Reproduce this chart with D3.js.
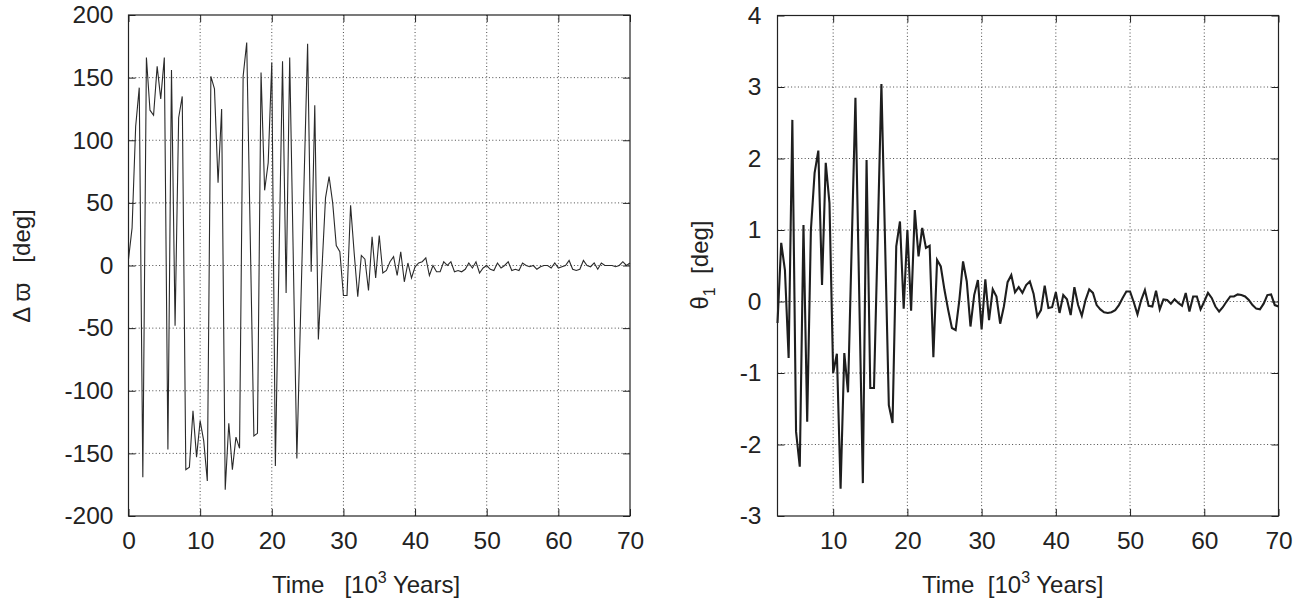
<!DOCTYPE html>
<html>
<head>
<meta charset="utf-8">
<script src="https://cdn.jsdelivr.net/npm/d3@7"></script>
<style>
  html, body { margin: 0; padding: 0; background: #fff; }
  svg { display: block; }
  text { font-family: "Liberation Sans", Arial, Helvetica, sans-serif; fill: #222; }
</style>
</head>
<body>
<svg id="chart" width="1309" height="605"></svg>
<script>
// ---------------- DATA ----------------
// Left panel: Δϖ [deg] sampled every 0.5 kyr from 0 to 70
const leftStart = 0, leftStep = 0.5;
const leftValues = [
  5, 30, 111, 142, -169, 166, 124, 120, 159, 133,
  166, -147, 156, -48, 118, 135, -163, -161, -116, -153,
  -124, -140, -172, 151, 141, 66, 125, -179, -126, -163,
  -137, -146, 151, 178, 21, -136, -134, 154, 60, 82,
  162, -160, 2, 163, -22, 166, 6, -154, -44, 66,
  177, -5, 128, -59, -3, 54, 71, 50, 16, 11,
  -24, -24, 48, 10, -25, 8, 5, -20, 23, -10,
  24, -6, -4, 3, 7, -8, 11, -13, 2, -10,
  -1, 2, 3, 6, -8, 0, -5, -5, 3, 0,
  3, -5, -4, -5, -3, 2, -2, 3, -6, -2,
  0, -3, -4, 2, -2, 0, 3, -4, -3, -4,
  2, 0, -1, 0, -3, -1, 0, 0, -2, 2,
  -2, -1, 0, 4, -3, -4, -3, 4, 0, -1,
  2, -3, 2, 0, 0, 0, -1, 0, 3, 0,
  2
];
// Right panel: θ1 [deg] sampled every 0.5 kyr from 2.5 to 70
const rightStart = 2.5, rightStep = 0.5;
const rightValues = [
  -0.3, 0.82, 0.44, -0.79, 2.54, -1.82, -2.31, 1.07, -1.68, 1.0,
  1.8, 2.11, 0.23, 1.94, 1.38, -1.0, -0.73, -2.62, -0.72, -1.27,
  0.79, 2.85, 0.15, -2.54, 1.98, -1.21, -1.21, 0.9, 3.04, 0.8,
  -1.45, -1.7, 0.77, 1.12, -0.1, 1.0, -0.13, 1.28, 0.63, 1.03,
  0.75, 0.78, -0.78, 0.58, 0.49, 0.16, -0.12, -0.37, -0.4, 0.02,
  0.56, 0.28, -0.35, 0.09, 0.3, -0.39, 0.31, -0.26, 0.17, 0.07,
  -0.31, -0.07, 0.27, 0.37, 0.13, 0.2, 0.12, 0.23, 0.28, 0.11,
  -0.21, -0.12, 0.22, -0.09, -0.08, 0.13, -0.16, 0.09, 0.03, -0.19,
  0.2, -0.05, -0.2, 0.02, 0.17, 0.12, -0.05, -0.11, -0.15, -0.16,
  -0.15, -0.12, -0.05, 0.05, 0.14, 0.14, -0.01, -0.18, 0.02, 0.16,
  -0.06, -0.07, 0.15, -0.11, 0.03, 0.02, -0.03, 0.03, -0.02, -0.06,
  0.12, -0.14, 0.07, 0.07, -0.11, 0, 0.12, 0.05, -0.07, -0.14,
  -0.08, 0, 0.07, 0.07, 0.1, 0.09, 0.07, 0.02, -0.05, -0.1,
  -0.11, -0.03, 0.09, 0.1, -0.05, -0.07
];
// Tick labels
const leftXTicks = [0, 10, 20, 30, 40, 50, 60, 70];
const leftYTicks = [-200, -150, -100, -50, 0, 50, 100, 150, 200];
const rightXTicks = [10, 20, 30, 40, 50, 60, 70];
const rightYTicks = [-3, -2, -1, 0, 1, 2, 3, 4];

// ---------------- DRAWING ----------------
const svg = d3.select("#chart");
svg.append("rect").attr("width", 1309).attr("height", 605).attr("fill", "#fff");

const fmt = d => String(d); // plain hyphen-minus, as in the reference

function panel(cfg) {
  const x = d3.scaleLinear().domain(cfg.xDomain).range([cfg.left, cfg.right]);
  const y = d3.scaleLinear().domain(cfg.yDomain).range([cfg.bottom, cfg.top]);
  const g = svg.append("g");

  // grid (dotted)
  const grid = g.append("g").attr("stroke", "#4a4a4a").attr("stroke-width", 1)
    .attr("stroke-dasharray", "1,2.4");
  cfg.xTicks.forEach(t => {
    const px = x(t);
    if (px > cfg.left + 1 && px < cfg.right - 1)
      grid.append("line").attr("x1", px).attr("x2", px).attr("y1", cfg.top).attr("y2", cfg.bottom);
  });
  cfg.yTicks.forEach(t => {
    const py = y(t);
    if (py > cfg.top + 1 && py < cfg.bottom - 1)
      grid.append("line").attr("x1", cfg.left).attr("x2", cfg.right).attr("y1", py).attr("y2", py);
  });

  // data line
  const data = cfg.values.map((v, i) => [cfg.start + i * cfg.step, v]);
  g.append("path").datum(data)
    .attr("fill", "none")
    .attr("stroke", cfg.lineColor)
    .attr("stroke-width", cfg.lineWidth)
    .attr("stroke-linejoin", "miter")
    .attr("d", d3.line().x(d => x(d[0])).y(d => y(d[1])));

  // axes (labels via d3 axes, inward ticks)
  const tl = 7;
  const bottomAxis = d3.axisBottom(x).tickValues(cfg.xTicks).tickSize(-tl).tickPadding(16).tickFormat(fmt);
  const topAxis = d3.axisTop(x).tickValues(cfg.xTicks).tickSize(-tl).tickFormat("");
  const leftAxis = d3.axisLeft(y).tickValues(cfg.yTicks).tickSize(-tl).tickPadding(cfg.yPad).tickFormat(fmt);
  const rightAxis = d3.axisRight(y).tickValues(cfg.yTicks).tickSize(-tl).tickFormat("");

  const styleAxis = sel => {
    sel.select(".domain").remove();
    sel.selectAll(".tick line").attr("stroke", "#222").attr("stroke-width", 1);
    sel.selectAll(".tick text").attr("font-size", 24.5).attr("fill", "#222")
      .attr("font-family", '"Liberation Sans", Arial, sans-serif');
  };
  g.append("g").attr("transform", `translate(0,${cfg.bottom})`).call(bottomAxis).call(styleAxis);
  g.append("g").attr("transform", `translate(0,${cfg.top})`).call(topAxis).call(styleAxis);
  g.append("g").attr("transform", `translate(${cfg.left},0)`).call(leftAxis).call(styleAxis);
  g.append("g").attr("transform", `translate(${cfg.right},0)`).call(rightAxis).call(styleAxis);

  // frame
  g.append("rect").attr("x", cfg.left).attr("y", cfg.top)
    .attr("width", cfg.right - cfg.left).attr("height", cfg.bottom - cfg.top)
    .attr("fill", "none").attr("stroke", "#222").attr("stroke-width", 1.2);
  return g;
}

panel({
  xDomain: [0, 70], yDomain: [-200, 200],
  left: 128.5, right: 630, top: 15, bottom: 516,
  xTicks: leftXTicks, yTicks: leftYTicks,
  values: leftValues, start: leftStart, step: leftStep,
  lineColor: "#2a2a2a", lineWidth: 1.1, yPad: 15
});
panel({
  xDomain: [2.5, 70], yDomain: [-3, 4],
  left: 777.5, right: 1278.5, top: 15.5, bottom: 516,
  xTicks: rightXTicks, yTicks: rightYTicks,
  values: rightValues, start: rightStart, step: rightStep,
  lineColor: "#1e1e1e", lineWidth: 2.1, yPad: 16
});

// axis titles
const fs = 24;
const t1 = svg.append("text").attr("x", 272).attr("y", 593).attr("font-size", fs)
  .attr("xml:space", "preserve").style("white-space", "pre");
t1.append("tspan").text("Time   [10");
t1.append("tspan").attr("dy", -10).attr("font-size", 16).text("3");
t1.append("tspan").attr("dy", 10).text(" Years]");

const t2 = svg.append("text").attr("x", 922).attr("y", 593).attr("font-size", fs)
  .attr("xml:space", "preserve").style("white-space", "pre");
t2.append("tspan").text("Time  [10");
t2.append("tspan").attr("dy", -10).attr("font-size", 16).text("3");
t2.append("tspan").attr("dy", 10).text(" Years]");

const y1 = svg.append("text").attr("transform", "translate(30,266) rotate(-90)")
  .attr("text-anchor", "middle").attr("font-size", fs).style("white-space", "pre");
y1.append("tspan").text("Δ ϖ   [deg]");

const y2 = svg.append("text").attr("transform", "translate(708,265) rotate(-90)")
  .attr("text-anchor", "middle").attr("font-size", fs).style("white-space", "pre");
y2.append("tspan").text("θ");
y2.append("tspan").attr("dy", 7).attr("font-size", 16).text("1");
y2.append("tspan").attr("dy", -7).text("  [deg]");
</script>
</body>
</html>
